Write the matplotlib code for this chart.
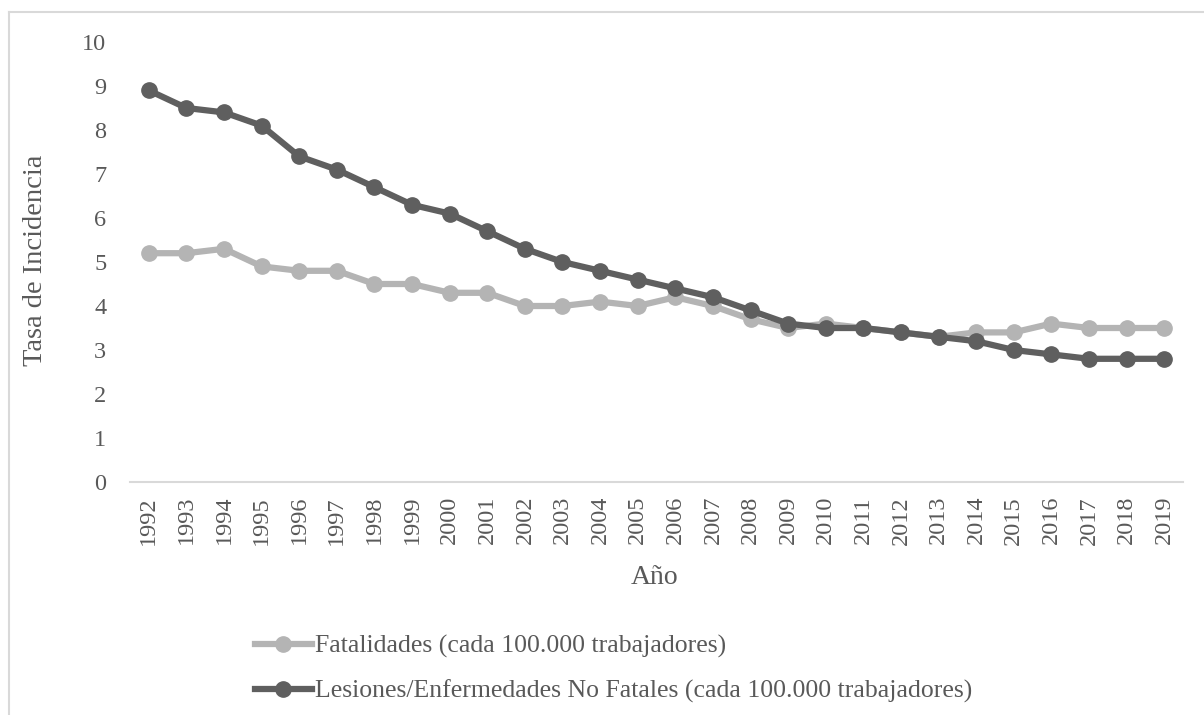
import matplotlib
matplotlib.use("Agg")
import matplotlib.pyplot as plt
from matplotlib.lines import Line2D

years = [str(y) for y in range(1992, 2020)]
fatalidades = [5.2, 5.2, 5.3, 4.9, 4.8, 4.8, 4.5, 4.5, 4.3, 4.3, 4.0, 4.0, 4.1, 4.0,
               4.2, 4.0, 3.7, 3.5, 3.6, 3.5, 3.4, 3.3, 3.4, 3.4, 3.6, 3.5, 3.5, 3.5]
no_fatales = [8.9, 8.5, 8.4, 8.1, 7.4, 7.1, 6.7, 6.3, 6.1, 5.7, 5.3, 5.0, 4.8, 4.6,
              4.4, 4.2, 3.9, 3.6, 3.5, 3.5, 3.4, 3.3, 3.2, 3.0, 2.9, 2.8, 2.8, 2.8]
y_ticks = list(range(0, 11))

label_fat = "Fatalidades (cada 100.000 trabajadores)"
label_nf = "Lesiones/Enfermedades No Fatales (cada 100.000 trabajadores)"

TEXT = "#595959"
LIGHT = "#B4B4B4"
DARK = "#5F5F5F"
BORDER = "#D9D9D9"

plt.rcParams["font.family"] = ["Liberation Serif", "DejaVu Serif"]

W, H = 1204, 715
fig = plt.figure(figsize=(W / 100, H / 100), dpi=100)
ax = fig.add_axes([130 / W, 1 - 482 / H, 1053 / W, 440 / H])

x = list(range(len(years)))
ax.plot(x, fatalidades, color=LIGHT, lw=4.5, marker="o", ms=11,
        solid_capstyle="round", label=label_fat, zorder=2)
ax.plot(x, no_fatales, color=DARK, lw=4.5, marker="o", ms=11,
        solid_capstyle="round", label=label_nf, zorder=3)

ax.set_xlim(-0.5, len(years) - 0.5)
ax.set_ylim(0, 10)
ax.set_xticks(x)
ax.set_xticklabels(years, rotation=90, fontsize=17.5, color=TEXT)
ax.set_yticks(y_ticks)
ax.set_yticklabels([str(v) for v in y_ticks], fontsize=17.5, color=TEXT)
ax.tick_params(axis="both", length=0)
ax.tick_params(axis="y", pad=17)
ax.tick_params(axis="x", pad=10)

for side in ("top", "right", "left"):
    ax.spines[side].set_visible(False)
ax.spines["bottom"].set_color(BORDER)
ax.spines["bottom"].set_linewidth(1.5)

fig.text(655 / W, 1 - 578 / H, "Año", ha="center", va="center",
         fontsize=20, color=TEXT)
fig.text(36 / W, 1 - 260 / H, "Tasa de Incidencia", ha="center", va="center",
         rotation=90, fontsize=20.5, color=TEXT)

handles = [
    Line2D([], [], color=LIGHT, lw=4.5, marker="o", ms=11),
    Line2D([], [], color=DARK, lw=4.5, marker="o", ms=11),
]
fig.legend(handles, [label_fat, label_nf], loc="center left",
           bbox_to_anchor=(255 / W, 1 - 669 / H), frameon=False,
           fontsize=18.5, labelcolor=TEXT, handlelength=2.2, handletextpad=0.15,
           labelspacing=0.85, borderpad=0, borderaxespad=0)

# light frame around the chart area
fig.add_artist(Line2D([8.5 / W, 8.5 / W], [0, 1 - 12 / H], color=BORDER,
                      lw=1.5, transform=fig.transFigure))
fig.add_artist(Line2D([8.5 / W, 1], [1 - 12 / H, 1 - 12 / H], color=BORDER,
                      lw=1.5, transform=fig.transFigure))

fig.savefig("out.png", dpi=100, facecolor="white")
